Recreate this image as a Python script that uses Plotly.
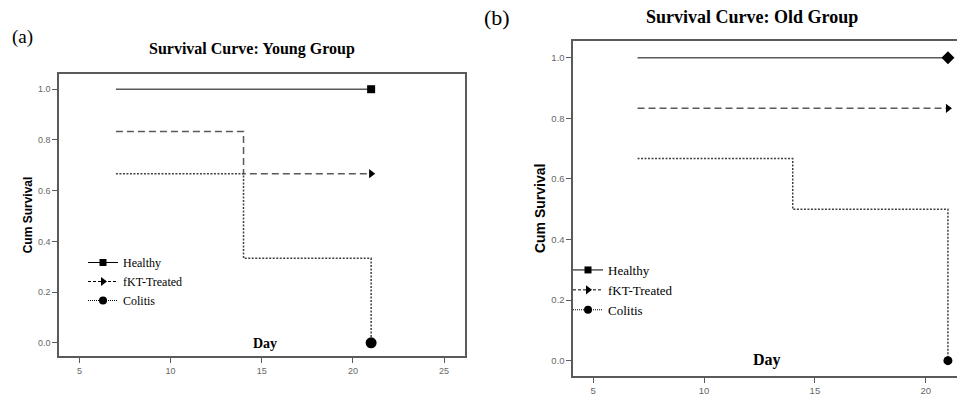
import plotly.graph_objects as go

# ---- data ----
days = [7, 14, 21]
young_healthy = [1.0, 1.0, 1.0]
young_fkt = [0.833, 0.667, 0.667]
young_colitis = [0.667, 0.333, 0.0]
old_healthy = [1.0, 1.0, 1.0]
old_fkt = [0.833, 0.833, 0.833]
old_colitis = [0.667, 0.5, 0.0]
series_names = ["Healthy", "fKT-Treated", "Colitis"]
x_ticks = [5, 10, 15, 20, 25]
y_ticks = [0.0, 0.2, 0.4, 0.6, 0.8, 1.0]

LINE = "#5a5a5a"
SERIF = "Liberation Serif, Times New Roman, serif"
SANS = "Liberation Sans, Arial, sans-serif"

dashes = ["solid", "7px,4px", "2px,1.5px"]
line_colors = [LINE, LINE, "#404040"]
legend_syms = ["square", "triangle-right", "circle"]

fig = go.Figure()

def add_panel(xa, ya, legend, vals, end_syms, end_sizes):
    for i, (name, v) in enumerate(zip(series_names, vals)):
        fig.add_trace(go.Scatter(
            x=days, y=v, mode="lines", line=dict(shape="hv", color=line_colors[i], width=1.5, dash=dashes[i]),
            xaxis=xa, yaxis=ya, showlegend=False, hoverinfo="skip"))
        fig.add_trace(go.Scatter(
            x=[days[-1]], y=[v[-1]], mode="markers",
            marker=dict(symbol=end_syms[i], size=end_sizes[i], color="black"),
            xaxis=xa, yaxis=ya, showlegend=False, cliponaxis=False))
    for i, name in enumerate(series_names):
        fig.add_trace(go.Scatter(
            x=[None], y=[None], mode="lines+markers", name=name,
            line=dict(color="black", width=1, dash=["solid", "3px,2px", "1px,1px"][i]),
            marker=dict(symbol=legend_syms[i], size=[7, 8, 8][i], color="black"),
            xaxis=xa, yaxis=ya, legend=legend))

add_panel("x", "y", "legend", [young_healthy, young_fkt, young_colitis],
          ["square", "triangle-right", "circle"], [8, 8, 11])
add_panel("x2", "y2", "legend2", [old_healthy, old_fkt, old_colitis],
          ["diamond", "triangle-right", "circle"], [10, 8, 9])

def axis_common(fs):
    return dict(showline=True, linecolor=LINE, linewidth=1.5, ticks="outside", ticklen=5,
                tickcolor=LINE, tickfont=dict(family=SANS, size=fs, color="#666"),
                showgrid=False, zeroline=False, automargin=False)

fig.update_layout(
    width=957, height=398, margin=dict(l=0, r=0, t=0, b=0, autoexpand=False),
    paper_bgcolor="white", plot_bgcolor="white",
    xaxis=dict(domain=[0.0617, 0.4859], range=[3.88, 26.15], tickvals=x_ticks,
               tickformat="d", mirror=True, anchor="y", **axis_common(9)),
    yaxis=dict(domain=[0.1055, 0.8141], range=[-0.052, 1.06], tickvals=y_ticks,
               tickformat=".1f", mirror=True, anchor="x",
               title=dict(text="Cum Survival", font=dict(family=SANS, size=12, color="black", weight="bold"), standoff=3),
               **axis_common(9)),
    xaxis2=dict(domain=[0.599, 1.0], range=[4.10, 21.41], tickvals=x_ticks,
                tickformat="d", mirror=True, anchor="y2", **axis_common(9.5)),
    yaxis2=dict(domain=[0.0553, 0.8977], range=[-0.0505, 1.056], tickvals=y_ticks,
                tickformat=".1f", anchor="x2",
                title=dict(text="Cum Survival", font=dict(family=SANS, size=14, color="black", weight="bold"), standoff=2),
                **axis_common(9.5)),
    legend=dict(x=83 / 957, y=1 - 248 / 398, xanchor="left", yanchor="top",
                bgcolor="rgba(0,0,0,0)", font=dict(family=SERIF, size=12, color="black"),
                itemwidth=30, tracegroupgap=0),
    legend2=dict(x=568 / 957, y=1 - 255 / 398, xanchor="left", yanchor="top",
                 bgcolor="rgba(0,0,0,0)", font=dict(family=SERIF, size=13, color="black"),
                 itemwidth=30, tracegroupgap=0),
    showlegend=True,
)

ann = [
    dict(text="(a)", x=10 / 957, y=1 - 37 / 398, xref="paper", yref="paper", xanchor="left", yanchor="middle",
         font=dict(family=SERIF, size=19, color="black")),
    dict(text="(b)", x=482 / 957, y=1 - 18 / 398, xref="paper", yref="paper", xanchor="left", yanchor="middle",
         font=dict(family=SERIF, size=22, color="black")),
    dict(text="<b>Survival Curve: Young Group</b>", x=252 / 957, y=1 - 49 / 398, xref="paper", yref="paper",
         xanchor="center", yanchor="middle", font=dict(family=SERIF, size=16, color="black")),
    dict(text="<b>Survival Curve: Old Group</b>", x=752 / 957, y=1 - 17 / 398, xref="paper", yref="paper",
         xanchor="center", yanchor="middle", font=dict(family=SERIF, size=18, color="black")),
    dict(text="<b>Day</b>", x=0.507, y=0.046, xref="x domain", yref="y domain", xanchor="center", yanchor="middle",
         font=dict(family=SERIF, size=14, color="black")),
    dict(text="<b>Day</b>", x=0.505, y=0.048, xref="x2 domain", yref="y2 domain", xanchor="center", yanchor="middle",
         font=dict(family=SERIF, size=16, color="black")),
]
fig.update_layout(annotations=[dict(showarrow=False, **a) for a in ann])

fig.write_html("out.html", config={"displayModeBar": False},
               post_script="document.body.style.margin='0';document.body.style.overflow='hidden';")
